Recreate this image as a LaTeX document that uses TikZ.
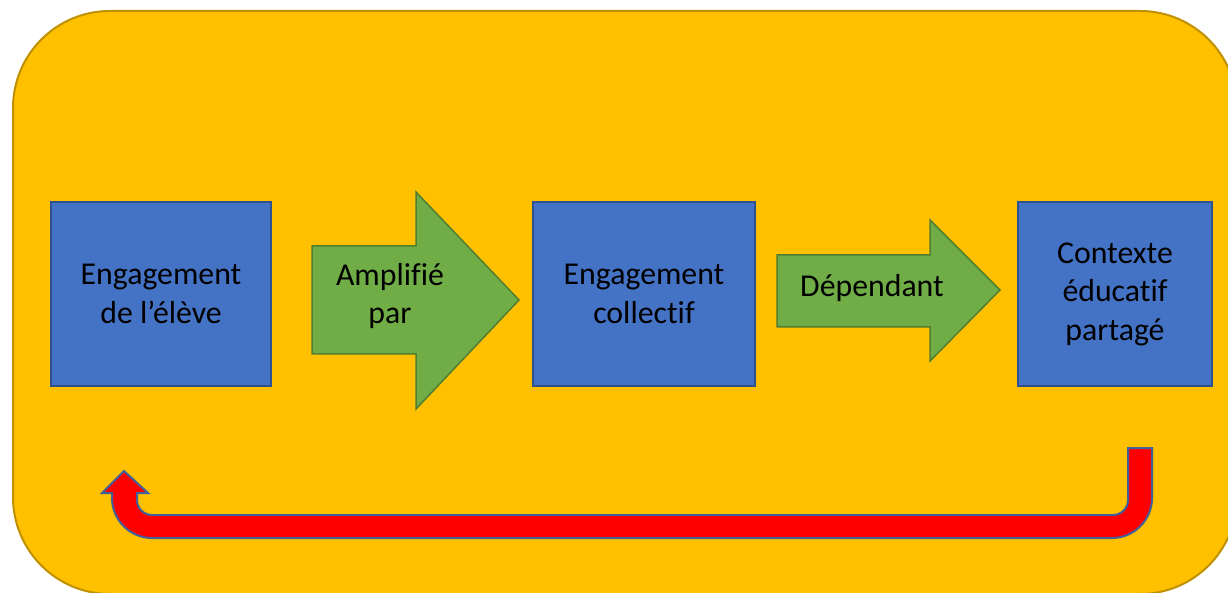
\documentclass[tikz,border=0pt]{standalone}
\usepackage{fontspec}
\setmainfont[Ligatures=NoCommon]{Carlito}
\definecolor{panelfill}{HTML}{FFC000}
\definecolor{paneledge}{HTML}{BF9000}
\definecolor{boxfill}{HTML}{4472C4}
\definecolor{boxedge}{HTML}{2F528F}
\definecolor{arrowfill}{HTML}{70AD47}
\definecolor{arrowedge}{HTML}{507E32}
\definecolor{loopfill}{HTML}{FF0000}
\definecolor{loopedge}{HTML}{41609A}
\begin{document}
\begin{tikzpicture}[x=1pt,y=1pt,
  label text/.style={font=\fontsize{31.8}{38.5}\selectfont, align=center, text=black},
  stagebox/.style={draw=boxedge, fill=boxfill, line width=1.5pt, inner sep=0pt,
    minimum height=184pt, label text},
  flowarrow/.style={draw=arrowedge, fill=arrowfill, line width=1.5pt, line join=miter},
  looparrow/.style={draw=loopedge, fill=loopfill, line width=2pt, line join=miter}]
\useasboundingbox (0,0) rectangle (1228,592);

% background panel
\draw[fill=panelfill, draw=paneledge, line width=2pt, rounded corners=97pt]
  (13,-2) rectangle (1237,581);

% the three stages
\node[stagebox, minimum width=220pt] (eleve) at (161,298) {Engagement\\de l’élève};
\node[stagebox, minimum width=222pt] (collectif) at (644,298) {Engagement\\collectif};
\node[stagebox, minimum width=194pt] (contexte) at (1115,298) {Contexte\\éducatif\\partagé};

% block arrows between the stages
\draw[flowarrow] (312,238) -- (312,346) -- (416,346) -- (416,400) -- (519,292)
  -- (416,183) -- (416,238) -- cycle;
\node[label text] (amplifie) at (390,296) {Amplifié\\par};

\draw[flowarrow] (777,265) -- (777,337) -- (930,337) -- (930,372) -- (1000,302)
  -- (930,231) -- (930,265) -- cycle;
\node[label text, anchor=base] (dependant) at (872,295) {Dépendant};

% feedback arrow back to the first stage
\draw[looparrow] (124,121) -- (148,99) -- (137,99) -- (137,92)
  arc[start angle=180, end angle=270, radius=15] -- (1113,77)
  arc[start angle=270, end angle=360, radius=15] -- (1128,144) -- (1152,144)
  -- (1152,94) arc[start angle=0, end angle=-90, radius=40] -- (152,54)
  arc[start angle=270, end angle=180, radius=40] -- (112,99) -- (102,99) -- cycle;
\end{tikzpicture}
\end{document}
